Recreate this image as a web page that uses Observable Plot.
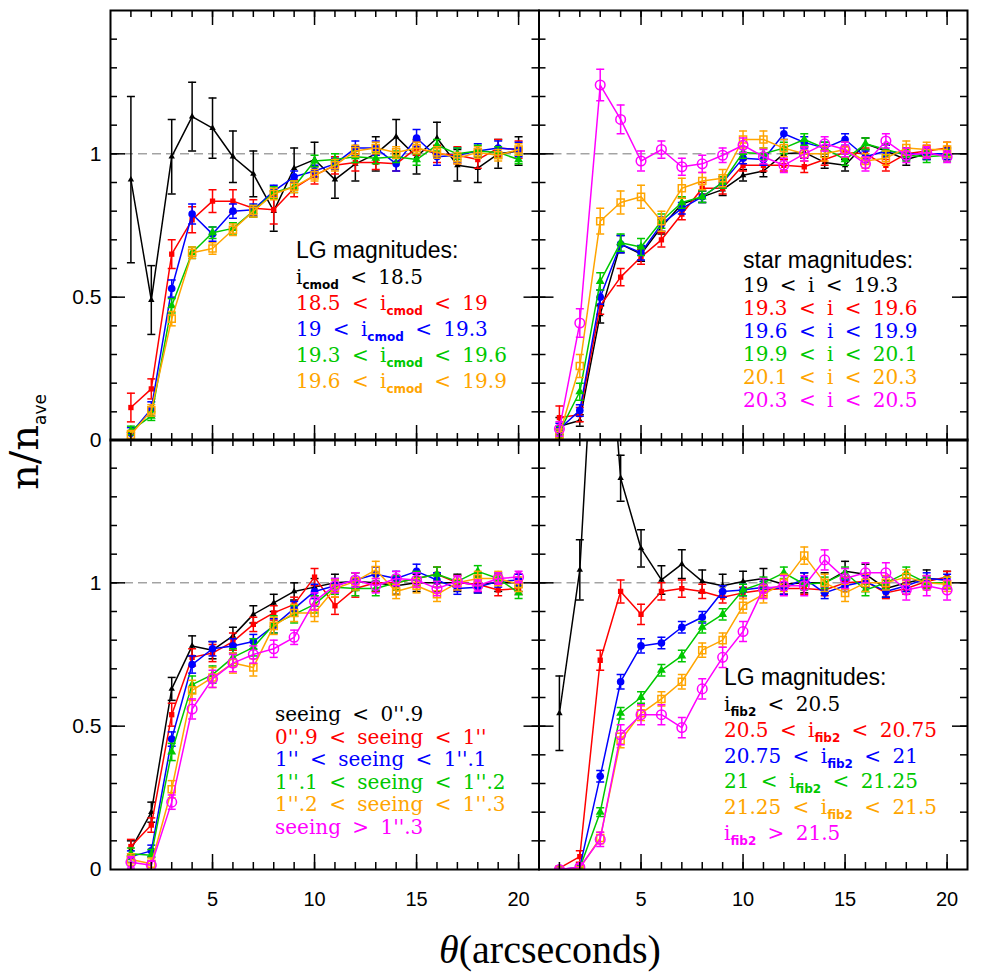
<!DOCTYPE html>
<html>
<head>
<meta charset="utf-8">
<script src="https://cdn.jsdelivr.net/npm/d3@7"></script>
<script src="https://cdn.jsdelivr.net/npm/@observablehq/plot@0.6"></script>
<style>
  html, body { margin: 0; padding: 0; background: #fff; }
  #wrap { position: relative; width: 981px; height: 978px; overflow: hidden; background: #fff; }
  #wrap > svg { position: absolute; left: 0; top: 0; max-width: none; }
</style>
</head>
<body>
<div id="wrap"></div>
<script>
// ---------------- data ----------------
const theta = [1, 2, 3, 4, 5, 6, 7, 8, 9, 10, 11, 12, 13, 14, 15, 16, 17, 18, 19, 20];

const xMinorTicks = [1, 2, 3, 4, 5, 6, 7, 8, 9, 10, 11, 12, 13, 14, 15, 16, 17, 18, 19, 20];
const xMajorTicks = [5, 10, 15, 20];
const xTickLabels = [5, 10, 15, 20];
const yMinorTicks = [0.1, 0.2, 0.3, 0.4, 0.5, 0.6, 0.7, 0.8, 0.9, 1.0, 1.1, 1.2, 1.3, 1.4];
const yMajorTicks = [0.5, 1.0];
const yTickLabels = [0, 0.5, 1];

// Panel A: LG magnitudes (i_cmod)
const cmodBlack     = [0.91, 0.49, 0.99, 1.13, 1.09, 0.99, 0.93, 0.80, 0.95, 0.98, 0.91, 0.965, 1.0, 1.06, 0.99, 1.055, 0.96, 0.95, 1.0, 1.01];
const cmodBlackErr  = [0.29, 0.12, 0.13, 0.12, 0.105, 0.09, 0.08, 0.07, 0.07, 0.06, 0.065, 0.06, 0.06, 0.06, 0.06, 0.055, 0.055, 0.05, 0.05, 0.05];
const cmodRed       = [0.115, 0.18, 0.65, 0.77, 0.835, 0.835, 0.81, 0.805, 0.88, 0.925, 0.96, 0.97, 0.97, 0.965, 1.02, 1.0, 0.995, 0.98, 1.02, 1.015];
const cmodRedErr    = [0.05, 0.035, 0.05, 0.045, 0.04, 0.04, 0.03, 0.05, 0.03, 0.03, 0.03, 0.03, 0.025, 0.025, 0.025, 0.03, 0.03, 0.03, 0.03, 0.03];
const cmodBlue      = [0.025, 0.11, 0.53, 0.79, 0.72, 0.80, 0.805, 0.87, 0.92, 0.94, 0.965, 1.02, 1.02, 0.965, 1.055, 0.99, 0.995, 1.01, 1.02, 1.015];
const cmodBlueErr   = [0.02, 0.025, 0.03, 0.035, 0.025, 0.025, 0.02, 0.02, 0.02, 0.02, 0.02, 0.025, 0.025, 0.025, 0.03, 0.03, 0.025, 0.025, 0.025, 0.025];
const cmodGreen     = [0.035, 0.085, 0.47, 0.655, 0.725, 0.74, 0.80, 0.865, 0.885, 0.975, 0.98, 0.99, 0.985, 0.99, 0.98, 1.03, 1.0, 1.01, 1.005, 0.98];
const cmodGreenErr  = [0.015, 0.015, 0.025, 0.02, 0.02, 0.02, 0.02, 0.02, 0.02, 0.02, 0.02, 0.02, 0.02, 0.02, 0.02, 0.02, 0.02, 0.02, 0.02, 0.015];
const cmodOrange    = [0.02, 0.105, 0.425, 0.655, 0.67, 0.735, 0.80, 0.86, 0.885, 0.925, 0.96, 1.01, 1.02, 1.005, 1.02, 1.005, 0.985, 1.005, 0.995, 1.015];
const cmodOrangeErr = [0.015, 0.02, 0.025, 0.02, 0.02, 0.02, 0.02, 0.02, 0.02, 0.02, 0.02, 0.02, 0.02, 0.02, 0.02, 0.02, 0.02, 0.02, 0.02, 0.02];
const cmodTitle = "LG magnitudes:";
const cmodLegend = ["i_{cmod} < 18.5", "18.5 < i_{cmod} < 19", "19 < i_{cmod} < 19.3", "19.3 < i_{cmod} < 19.6", "19.6 < i_{cmod} < 19.9"];

// Panel B: star magnitudes
const starBlack      = [0.05, 0.07, 0.44, 0.685, 0.65, 0.745, 0.825, 0.85, 0.875, 0.925, 0.94, 1.0, 1.005, 0.97, 0.96, 1.035, 1.01, 0.98, 1.0, 1.0];
const starBlackErr   = [0.03, 0.02, 0.03, 0.03, 0.025, 0.025, 0.02, 0.02, 0.02, 0.02, 0.02, 0.02, 0.02, 0.02, 0.02, 0.02, 0.02, 0.02, 0.02, 0.02];
const starRed        = [0.08, 0.09, 0.47, 0.57, 0.64, 0.70, 0.79, 0.88, 0.88, 0.96, 0.96, 0.96, 0.955, 0.98, 1.005, 1.0, 0.96, 1.0, 1.01, 1.02];
const starRedErr     = [0.04, 0.025, 0.03, 0.03, 0.025, 0.025, 0.02, 0.02, 0.02, 0.02, 0.02, 0.02, 0.02, 0.02, 0.02, 0.02, 0.02, 0.02, 0.02, 0.02];
const starBlue       = [0.04, 0.105, 0.50, 0.685, 0.655, 0.755, 0.81, 0.85, 0.90, 0.985, 0.98, 1.07, 1.04, 1.02, 1.05, 0.99, 1.01, 1.0, 1.0, 1.0];
const starBlueErr    = [0.02, 0.02, 0.025, 0.03, 0.025, 0.025, 0.02, 0.02, 0.02, 0.02, 0.02, 0.02, 0.02, 0.02, 0.02, 0.02, 0.02, 0.02, 0.02, 0.02];
const starGreen      = [0.03, 0.17, 0.555, 0.69, 0.675, 0.765, 0.83, 0.85, 0.90, 1.005, 1.0, 1.02, 1.05, 1.02, 0.98, 1.035, 1.015, 0.995, 0.99, 0.995];
const starGreenErr   = [0.02, 0.03, 0.03, 0.03, 0.03, 0.025, 0.02, 0.02, 0.02, 0.02, 0.02, 0.02, 0.02, 0.02, 0.02, 0.02, 0.02, 0.02, 0.02, 0.02];
const starOrange     = [0.02, 0.26, 0.765, 0.83, 0.85, 0.765, 0.88, 0.905, 0.915, 1.05, 1.05, 1.02, 1.0, 1.0, 1.015, 0.975, 0.985, 1.02, 1.015, 1.015];
const starOrangeErr  = [0.02, 0.04, 0.045, 0.04, 0.04, 0.035, 0.035, 0.03, 0.03, 0.03, 0.03, 0.03, 0.025, 0.025, 0.025, 0.025, 0.025, 0.025, 0.025, 0.025];
const starMagenta    = [0.04, 0.41, 1.24, 1.12, 0.975, 1.015, 0.955, 0.965, 0.995, 1.03, 0.99, 0.96, 1.0, 1.035, 1.015, 0.965, 1.045, 0.995, 1.005, 0.99];
const starMagentaErr = [0.025, 0.05, 0.055, 0.05, 0.035, 0.03, 0.03, 0.03, 0.025, 0.025, 0.025, 0.025, 0.025, 0.025, 0.025, 0.025, 0.025, 0.025, 0.02, 0.02];
const starTitle = "star magnitudes:";
const starLegend = ["19 < i < 19.3", "19.3 < i < 19.6", "19.6 < i < 19.9", "19.9 < i < 20.1", "20.1 < i < 20.3", "20.3 < i < 20.5"];

// Panel C: seeing
const seeBlack      = [0.07, 0.20, 0.63, 0.78, 0.765, 0.815, 0.89, 0.93, 0.97, 0.985, 1.0, 1.005, 1.0, 0.99, 1.0, 1.0, 1.0, 0.995, 1.0, 1.0];
const seeBlackErr   = [0.03, 0.035, 0.04, 0.035, 0.03, 0.03, 0.03, 0.03, 0.03, 0.03, 0.03, 0.03, 0.03, 0.03, 0.03, 0.03, 0.03, 0.03, 0.03, 0.03];
const seeRed        = [0.08, 0.155, 0.54, 0.74, 0.755, 0.795, 0.855, 0.895, 0.925, 1.02, 0.92, 0.98, 1.0, 1.0, 1.015, 1.03, 1.0, 0.995, 0.975, 0.98];
const seeRedErr     = [0.025, 0.025, 0.04, 0.03, 0.03, 0.03, 0.025, 0.025, 0.025, 0.03, 0.03, 0.03, 0.03, 0.025, 0.025, 0.025, 0.025, 0.025, 0.02, 0.02];
const seeBlue       = [0.045, 0.065, 0.455, 0.715, 0.77, 0.78, 0.795, 0.85, 0.91, 0.97, 0.99, 1.01, 1.03, 1.015, 1.04, 1.01, 0.98, 0.985, 1.005, 1.01];
const seeBlueErr    = [0.02, 0.02, 0.025, 0.03, 0.025, 0.025, 0.025, 0.025, 0.025, 0.025, 0.025, 0.025, 0.025, 0.025, 0.025, 0.025, 0.02, 0.02, 0.02, 0.02];
const seeGreen      = [0.055, 0.05, 0.41, 0.645, 0.68, 0.74, 0.775, 0.855, 0.89, 0.925, 0.985, 0.98, 0.98, 1.0, 1.015, 1.03, 1.005, 1.04, 1.015, 0.965];
const seeGreenErr   = [0.02, 0.02, 0.03, 0.03, 0.03, 0.03, 0.03, 0.03, 0.03, 0.03, 0.025, 0.025, 0.025, 0.025, 0.025, 0.025, 0.02, 0.02, 0.02, 0.02];
const seeOrange     = [0.035, 0.02, 0.28, 0.625, 0.67, 0.72, 0.705, 0.85, 0.895, 0.895, 0.98, 1.005, 1.045, 0.97, 0.99, 0.96, 1.0, 1.015, 1.015, 0.995];
const seeOrangeErr  = [0.02, 0.02, 0.03, 0.035, 0.035, 0.035, 0.03, 0.03, 0.03, 0.03, 0.03, 0.03, 0.03, 0.025, 0.025, 0.025, 0.025, 0.025, 0.025, 0.025];
const seeMagenta    = [0.025, 0.015, 0.235, 0.56, 0.665, 0.72, 0.75, 0.77, 0.81, 0.935, 0.99, 1.01, 0.99, 1.015, 1.01, 0.98, 1.005, 0.99, 1.015, 1.02];
const seeMagentaErr = [0.02, 0.015, 0.025, 0.035, 0.03, 0.03, 0.03, 0.03, 0.025, 0.03, 0.025, 0.025, 0.025, 0.025, 0.025, 0.025, 0.02, 0.02, 0.02, 0.02];
const seeLegend = ["seeing < 0''.9", "0''.9 < seeing < 1''", "1'' < seeing < 1''.1", "1''.1 < seeing < 1''.2", "1''.2 < seeing < 1''.3", "seeing > 1''.3"];

// Panel D: LG magnitudes (i_fib2)
const fibBlack      = [0.545, 1.045, 2.3, 1.365, 1.12, 1.01, 1.065, 1.005, 0.99, 1.005, 1.015, 0.995, 1.0, 1.0, 1.04, 1.03, 0.98, 1.0, 1.015, 1.01];
const fibBlackErr   = [0.13, 0.105, 0.1, 0.08, 0.065, 0.05, 0.05, 0.04, 0.04, 0.035, 0.035, 0.035, 0.035, 0.035, 0.035, 0.035, 0.03, 0.03, 0.03, 0.03];
const fibRed        = [0.005, 0.045, 0.73, 0.97, 0.89, 0.97, 0.98, 0.97, 0.95, 0.965, 0.975, 0.98, 0.98, 0.975, 1.0, 1.005, 0.965, 0.98, 1.005, 1.02];
const fibRedErr     = [0.005, 0.02, 0.035, 0.04, 0.035, 0.03, 0.03, 0.025, 0.02, 0.02, 0.02, 0.02, 0.02, 0.02, 0.02, 0.02, 0.02, 0.02, 0.02, 0.02];
const fibBlue       = [0.0, 0.008, 0.325, 0.655, 0.78, 0.79, 0.845, 0.88, 0.97, 0.975, 0.985, 0.98, 1.015, 0.965, 0.99, 1.005, 0.97, 0.99, 1.015, 1.01];
const fibBlueErr    = [0.004, 0.005, 0.02, 0.025, 0.025, 0.02, 0.02, 0.02, 0.02, 0.02, 0.02, 0.02, 0.02, 0.02, 0.02, 0.02, 0.02, 0.02, 0.02, 0.02];
const fibGreen      = [0.0, 0.005, 0.2, 0.545, 0.6, 0.695, 0.745, 0.845, 0.89, 0.975, 1.0, 1.035, 0.995, 1.0, 1.035, 0.975, 1.0, 1.035, 1.0, 1.0];
const fibGreenErr   = [0.004, 0.005, 0.015, 0.02, 0.02, 0.02, 0.02, 0.02, 0.02, 0.02, 0.02, 0.02, 0.02, 0.02, 0.02, 0.02, 0.02, 0.02, 0.02, 0.02];
const fibOrange     = [0.0, 0.005, 0.11, 0.45, 0.545, 0.595, 0.655, 0.765, 0.80, 0.92, 0.96, 1.0, 1.095, 1.0, 0.965, 1.0, 1.0, 1.02, 1.0, 0.995];
const fibOrangeErr  = [0.004, 0.005, 0.02, 0.025, 0.025, 0.025, 0.025, 0.025, 0.025, 0.025, 0.03, 0.03, 0.03, 0.03, 0.03, 0.03, 0.025, 0.025, 0.025, 0.025];
const fibMagenta    = [0.0, 0.008, 0.105, 0.47, 0.54, 0.54, 0.495, 0.63, 0.74, 0.83, 0.98, 0.99, 0.99, 1.08, 1.015, 1.035, 1.035, 0.975, 0.99, 0.975];
const fibMagentaErr = [0.004, 0.01, 0.025, 0.035, 0.035, 0.035, 0.035, 0.035, 0.035, 0.035, 0.035, 0.035, 0.035, 0.035, 0.035, 0.035, 0.035, 0.035, 0.035, 0.035];
const fibTitle = "LG magnitudes:";
const fibLegend = ["i_{fib2} < 20.5", "20.5 < i_{fib2} < 20.75", "20.75 < i_{fib2} < 21", "21 < i_{fib2} < 21.25", "21.25 < i_{fib2} < 21.5", "i_{fib2} > 21.5"];

const yTitleMain = "n/n";
const yTitleSub = "ave";
const xTitleSym = "θ";
const xTitleText = "(arcseconds)";

// ---------------- styles ----------------
const COLORS = { black: "#000000", red: "#ff0000", blue: "#0000ff", green: "#00c800", orange: "#ffa500", magenta: "#ff00ff" };
const MARKERS = {
  black:   { symbol: "triangle", r: 2.4, open: false },
  red:     { symbol: "square",   r: 3.0, open: false },
  blue:    { symbol: "circle",   r: 3.8, open: false },
  green:   { symbol: "triangle", r: 3.3, open: false },
  orange:  { symbol: "square",   r: 4.0, open: true },
  magenta: { symbol: "circle",   r: 4.8, open: true }
};
const capSymbol = { draw(ctx) { ctx.moveTo(-4, 0); ctx.lineTo(4, 0); } };

const W = 981, H = 978;

function makeSeries(names, vals, errs) {
  return names.map((n, i) => ({ name: n, values: vals[i], errors: errs[i] }));
}

const panels = [
  { frame: { x0: 110, x1: 538.5, y0: 10, y1: 440 }, showY: true, showX: false,
    series: makeSeries(["black", "red", "blue", "green", "orange"],
      [cmodBlack, cmodRed, cmodBlue, cmodGreen, cmodOrange],
      [cmodBlackErr, cmodRedErr, cmodBlueErr, cmodGreenErr, cmodOrangeErr]) },
  { frame: { x0: 538.5, x1: 967, y0: 10, y1: 440 }, showY: false, showX: false,
    series: makeSeries(["black", "red", "blue", "green", "orange", "magenta"],
      [starBlack, starRed, starBlue, starGreen, starOrange, starMagenta],
      [starBlackErr, starRedErr, starBlueErr, starGreenErr, starOrangeErr, starMagentaErr]) },
  { frame: { x0: 110, x1: 538.5, y0: 439, y1: 869 }, showY: true, showX: true,
    series: makeSeries(["black", "red", "blue", "green", "orange", "magenta"],
      [seeBlack, seeRed, seeBlue, seeGreen, seeOrange, seeMagenta],
      [seeBlackErr, seeRedErr, seeBlueErr, seeGreenErr, seeOrangeErr, seeMagentaErr]) },
  { frame: { x0: 538.5, x1: 967, y0: 439, y1: 869 }, showY: false, showX: true,
    series: makeSeries(["black", "red", "blue", "green", "orange", "magenta"],
      [fibBlack, fibRed, fibBlue, fibGreen, fibOrange, fibMagenta],
      [fibBlackErr, fibRedErr, fibBlueErr, fibGreenErr, fibOrangeErr, fibMagentaErr]) }
];

const wrap = document.getElementById("wrap");

for (const p of panels) {
  const f = p.frame;
  const w = f.x1 - f.x0, h = f.y1 - f.y0;
  const marks = [];
  marks.push(Plot.ruleY([1], { stroke: "#777", strokeWidth: 1, strokeDasharray: "9,5" }));
  for (const s of p.series) {
    const col = COLORS[s.name], mk = MARKERS[s.name];
    const rows = theta.map((t, i) => ({ t, v: s.values[i], e: s.errors[i] }));
    marks.push(Plot.line(rows, { x: "t", y: "v", stroke: col, strokeWidth: 1.5, clip: true }));
    marks.push(Plot.ruleX(rows, { x: "t", y1: d => d.v - d.e, y2: d => d.v + d.e, stroke: col, strokeWidth: 1.5, clip: true }));
    marks.push(Plot.dot(rows, { x: "t", y: d => d.v + d.e, symbol: capSymbol, r: 4, fill: "none", stroke: col, strokeWidth: 1.5, clip: true }));
    marks.push(Plot.dot(rows, { x: "t", y: d => d.v - d.e, symbol: capSymbol, r: 4, fill: "none", stroke: col, strokeWidth: 1.5, clip: true }));
    marks.push(Plot.dot(rows, { x: "t", y: "v", symbol: mk.symbol, r: mk.r,
      fill: mk.open ? "none" : col, stroke: mk.open ? col : "none", strokeWidth: 1.5, clip: true }));
  }
  // inward ticks on all sides
  const tk = { stroke: "black", strokeWidth: 1.5 };
  marks.push(Plot.tickX(xMinorTicks, { x: d => d, insetTop: h - 7, ...tk }));
  marks.push(Plot.tickX(xMinorTicks, { x: d => d, insetBottom: h - 7, ...tk }));
  marks.push(Plot.tickX(xMajorTicks, { x: d => d, insetTop: h - 15, ...tk }));
  marks.push(Plot.tickX(xMajorTicks, { x: d => d, insetBottom: h - 15, ...tk }));
  marks.push(Plot.tickY(yMinorTicks, { y: d => d, insetRight: w - 7, ...tk }));
  marks.push(Plot.tickY(yMinorTicks, { y: d => d, insetLeft: w - 7, ...tk }));
  marks.push(Plot.tickY(yMajorTicks, { y: d => d, insetRight: w - 15, ...tk }));
  marks.push(Plot.tickY(yMajorTicks, { y: d => d, insetLeft: w - 15, ...tk }));
  marks.push(Plot.frame({ stroke: "black", strokeWidth: 2 }));
  if (p.showY) marks.push(Plot.axisY(yTickLabels, { tickSize: 0, tickPadding: 9, label: null, fontSize: 21, tickFormat: d => String(d) }));
  if (p.showX) marks.push(Plot.axisX(xTickLabels, { tickSize: 0, tickPadding: 22, label: null, fontSize: 20, tickFormat: d => String(d) }));

  const svg = Plot.plot({
    width: W, height: H,
    marginLeft: f.x0, marginRight: W - f.x1, marginTop: f.y0, marginBottom: H - f.y1,
    x: { domain: [0, 21], axis: null, label: null },
    y: { domain: [0, 1.5], axis: null, label: null },
    style: { background: "none", fontFamily: "'Liberation Sans', Arial, sans-serif", fontSize: "20px", color: "black", overflow: "visible" },
    marks
  });
  wrap.appendChild(svg);
}

// ---------------- text overlay (legends and axis titles) ----------------
const ov = d3.select(wrap).append("svg").attr("width", W).attr("height", H)
  .style("position", "absolute").style("left", 0).style("top", 0);

function richText(sel, x, y, str, color) {
  const t = sel.append("text").attr("x", x).attr("y", y).attr("fill", color)
    .style("font-family", "'DejaVu Serif', serif").style("font-size", "20px")
    .style("word-spacing", "5px").attr("xml:space", "preserve");
  const parts = str.split(/(_\{[^}]+\})/).filter(s => s.length);
  let down = false;
  for (const part of parts) {
    const m = part.match(/^_\{([^}]+)\}$/);
    if (m) {
      t.append("tspan").attr("dy", 5).style("font-family", "'DejaVu Sans', sans-serif")
        .style("font-size", "12px").style("font-weight", "bold").style("word-spacing", "0px").text(m[1]);
      down = true;
    } else {
      const ts = t.append("tspan").text(part);
      if (down) { ts.attr("dy", -5); down = false; }
    }
  }
}
function title(sel, x, y, str) {
  sel.append("text").attr("x", x).attr("y", y).attr("fill", "black")
    .style("font-family", "'Liberation Sans', Arial, sans-serif").style("font-size", "23px").text(str);
}
const legendColorsA = ["black", "red", "blue", "green", "orange"];
const legendColors6 = ["black", "red", "blue", "green", "orange", "magenta"];

title(ov, 296, 258, cmodTitle);
cmodLegend.forEach((s, i) => richText(ov, 296, 284 + i * 26, s, COLORS[legendColorsA[i]]));

title(ov, 743, 268, starTitle);
starLegend.forEach((s, i) => richText(ov, 743, 292 + i * 23, s, COLORS[legendColors6[i]]));

seeLegend.forEach((s, i) => richText(ov, 275, 721 + i * 22.6, s, COLORS[legendColors6[i]]));

title(ov, 724, 685, fibTitle);
fibLegend.forEach((s, i) => richText(ov, 724, 711 + i * 25.8, s, COLORS[legendColors6[i]]));

// y title
const yt = ov.append("text").attr("transform", "translate(38,490) rotate(-90)").attr("fill", "black")
  .style("font-family", "'DejaVu Serif', serif").style("font-size", "40px");
yt.append("tspan").text(yTitleMain);
yt.append("tspan").attr("dy", 8).style("font-family", "'DejaVu Sans', sans-serif").style("font-size", "17px").text(yTitleSub);

// x title
const xt = ov.append("text").attr("x", 550).attr("y", 963).attr("text-anchor", "middle").attr("fill", "black")
  .style("font-family", "'Liberation Serif', 'Times New Roman', serif").style("font-size", "40px");
xt.append("tspan").style("font-style", "italic").text(xTitleSym);
xt.append("tspan").text(xTitleText);
</script>
</body>
</html>
